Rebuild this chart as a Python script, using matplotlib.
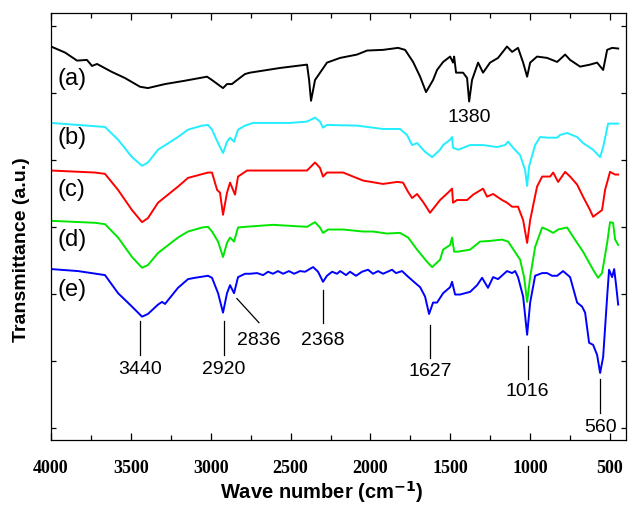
import matplotlib
matplotlib.use('Agg')
import matplotlib.pyplot as plt
from matplotlib.ticker import MultipleLocator

# FTIR spectra, transmittance in a.u. (curves offset vertically)
wn_a = [4000, 3912, 3837, 3775, 3743, 3712, 3618, 3537, 3443, 3393,
        3286, 3161, 3023, 2992, 2935, 2923, 2898, 2867, 2835, 2785,
        2754, 2566, 2397, 2384, 2372, 2359, 2347, 2272, 2190, 2084,
        2021, 1921, 1827, 1783, 1733, 1689, 1652, 1608, 1583, 1545,
        1501, 1483, 1476, 1464, 1420, 1395, 1382, 1364, 1326, 1295,
        1251, 1201, 1145, 1113, 1076, 1044, 1019, 1000, 957, 894,
        831, 781, 750, 687, 625, 581, 543, 518, 487, 449]
t_a = [5.69, 5.60, 5.48, 5.49, 5.40, 5.43, 5.31, 5.22, 5.09, 5.07,
       5.13, 5.18, 5.24, 5.19, 5.09, 5.07, 5.13, 5.13, 5.19, 5.28,
       5.30, 5.37, 5.42, 5.19, 4.88, 5.04, 5.19, 5.45, 5.52, 5.57,
       5.63, 5.64, 5.67, 5.64, 5.46, 5.24, 5.01, 5.19, 5.34, 5.46,
       5.54, 5.45, 5.54, 5.30, 5.30, 5.22, 4.87, 5.19, 5.45, 5.30,
       5.45, 5.52, 5.69, 5.61, 5.67, 5.45, 5.24, 5.45, 5.54, 5.52,
       5.46, 5.57, 5.49, 5.39, 5.42, 5.45, 5.34, 5.64, 5.67, 5.66]

wn_b = [4000, 3662, 3580, 3493, 3430, 3393, 3330, 3205, 3142, 3054,
        3017, 2992, 2954, 2923, 2898, 2879, 2854, 2829, 2785, 2735,
        2503, 2397, 2347, 2316, 2297, 2272, 2084, 1921, 1815, 1771,
        1739, 1708, 1658, 1614, 1564, 1545, 1501, 1489, 1483, 1451,
        1376, 1295, 1207, 1157, 1138, 1107, 1063, 1032, 1019, 1007,
        969, 938, 888, 831, 813, 769, 706, 669, 606, 562,
        543, 512, 449]
t_b = [4.55, 4.49, 4.30, 4.04, 3.91, 3.96, 4.15, 4.34, 4.45, 4.51,
       4.52, 4.45, 4.25, 4.10, 4.27, 4.33, 4.27, 4.45, 4.51, 4.55,
       4.55, 4.57, 4.63, 4.57, 4.48, 4.52, 4.51, 4.46, 4.46, 4.37,
       4.22, 4.25, 4.12, 4.04, 4.15, 4.22, 4.30, 4.34, 4.18, 4.15,
       4.22, 4.22, 4.19, 4.22, 4.27, 4.18, 4.07, 3.85, 3.61, 3.90,
       4.22, 4.34, 4.33, 4.33, 4.37, 4.40, 4.34, 4.25, 4.15, 4.04,
       4.19, 4.54, 4.54]

wn_c = [4000, 3724, 3662, 3580, 3493, 3430, 3393, 3330, 3205, 3142,
        3048, 3017, 2992, 2960, 2942, 2923, 2898, 2879, 2848, 2829,
        2785, 2773, 2397, 2347, 2316, 2297, 2272, 2171, 2046, 1921,
        1833, 1796, 1764, 1739, 1708, 1670, 1627, 1564, 1514, 1489,
        1483, 1458, 1395, 1357, 1295, 1270, 1232, 1176, 1145, 1113,
        1076, 1044, 1019, 1000, 957, 925, 875, 856, 825, 781,
        750, 706, 669, 625, 606, 550, 531, 500, 468, 449]
t_c = [3.84, 3.81, 3.79, 3.55, 3.25, 3.07, 3.13, 3.36, 3.60, 3.73,
       3.79, 3.81, 3.81, 3.55, 3.51, 3.18, 3.51, 3.66, 3.48, 3.75,
       3.82, 3.84, 3.84, 3.96, 3.88, 3.75, 3.81, 3.81, 3.69, 3.64,
       3.67, 3.66, 3.52, 3.43, 3.49, 3.37, 3.21, 3.40, 3.51, 3.57,
       3.36, 3.40, 3.40, 3.48, 3.57, 3.45, 3.49, 3.40, 3.36, 3.30,
       3.30, 3.10, 2.76, 3.10, 3.60, 3.75, 3.75, 3.81, 3.67, 3.82,
       3.75, 3.63, 3.45, 3.25, 3.15, 3.25, 3.55, 3.82, 3.78, 3.78]

wn_d = [4000, 3724, 3662, 3580, 3493, 3430, 3393, 3330, 3205, 3142,
        3054, 3017, 2992, 2954, 2923, 2898, 2879, 2854, 2829, 2785,
        2610, 2397, 2347, 2316, 2297, 2265, 2171, 2046, 1984, 1896,
        1815, 1764, 1708, 1646, 1614, 1564, 1545, 1501, 1489, 1476,
        1451, 1376, 1314, 1251, 1176, 1138, 1113, 1063, 1038, 1019,
        1000, 969, 925, 894, 856, 825, 769, 706, 669, 606,
        575, 550, 518, 500, 481, 468, 449]
t_d = [3.09, 3.06, 3.04, 2.84, 2.55, 2.39, 2.43, 2.61, 2.84, 2.93,
       2.99, 3.00, 2.93, 2.78, 2.55, 2.76, 2.84, 2.78, 2.99, 3.00,
       3.03, 3.00, 3.07, 2.99, 2.91, 2.96, 2.96, 2.93, 2.93, 2.90,
       2.91, 2.84, 2.66, 2.48, 2.40, 2.51, 2.66, 2.73, 2.84, 2.63,
       2.63, 2.66, 2.78, 2.79, 2.81, 2.78, 2.69, 2.51, 2.25, 1.88,
       2.25, 2.70, 2.99, 2.96, 2.91, 2.96, 2.99, 2.76, 2.63, 2.36,
       2.24, 2.31, 2.76, 3.07, 3.06, 2.81, 2.73]

wn_e = [4000, 3831, 3662, 3580, 3493, 3430, 3393, 3330, 3305, 3286,
        3205, 3142, 3098, 3017, 2992, 2954, 2923, 2898, 2879, 2854,
        2829, 2785, 2754, 2710, 2672, 2641, 2610, 2579, 2547, 2510,
        2478, 2441, 2409, 2359, 2328, 2297, 2272, 2240, 2209, 2190,
        2153, 2128, 2090, 2053, 2015, 1984, 1952, 1921, 1865, 1840,
        1802, 1771, 1733, 1689, 1658, 1633, 1608, 1583, 1545, 1501,
        1489, 1470, 1439, 1376, 1332, 1301, 1264, 1232, 1201, 1145,
        1113, 1094, 1076, 1044, 1019, 1000, 969, 925, 894, 863,
        831, 794, 750, 706, 675, 656, 631, 606, 581, 562,
        543, 518, 506, 487, 474, 462, 449]
t_e = [2.37, 2.34, 2.28, 2.01, 1.81, 1.66, 1.70, 1.84, 1.88, 1.85,
       2.09, 2.22, 2.24, 2.27, 2.24, 2.01, 1.72, 2.01, 2.13, 2.01,
       2.25, 2.30, 2.30, 2.31, 2.28, 2.33, 2.30, 2.34, 2.30, 2.34,
       2.30, 2.34, 2.33, 2.40, 2.33, 2.18, 2.27, 2.33, 2.30, 2.34,
       2.28, 2.33, 2.27, 2.33, 2.36, 2.30, 2.34, 2.30, 2.36, 2.31,
       2.34, 2.27, 2.19, 2.10, 1.96, 1.70, 1.87, 1.87, 2.01, 2.10,
       2.18, 1.99, 1.99, 2.03, 2.13, 2.24, 2.09, 2.25, 2.22, 2.34,
       2.31, 2.34, 2.25, 1.96, 1.39, 1.87, 2.27, 2.31, 2.31, 2.27,
       2.27, 2.34, 2.25, 1.87, 1.81, 1.72, 1.27, 1.24, 1.09, 0.82,
       1.06, 1.96, 2.36, 2.25, 2.37, 2.13, 1.84]

curves = [(wn_a, t_a, 'black', '(a)', 5.21),
          (wn_b, t_b, '#22EEFF', '(b)', 4.33),
          (wn_c, t_c, '#FF0000', '(c)', 3.55),
          (wn_d, t_d, '#00E600', '(d)', 2.81),
          (wn_e, t_e, '#0000FF', '(e)', 2.06)]

# peak labels: text, line start (x, y), line end (x, y), text position (x, y)
peaks = [('3440', (3440, 1.60), (3440, 1.09), (3440, 0.87)),
         ('2920', (2920, 1.60), (2920, 1.09), (2920, 0.87)),
         ('2836', (2836, 1.93), (2698, 1.57), (2698, 1.31)),
         ('2368', (2297, 2.06), (2297, 1.57), (2297, 1.31)),
         ('1627', (1627, 1.54), (1627, 1.04), (1627, 0.84)),
         ('1016', (1016, 1.22), (1016, 0.73), (1016, 0.54)),
         ('560', (560, 0.73), (560, 0.22), (560, 0.01))]

fig = plt.figure(figsize=(6.3, 5.09), dpi=100)
ax = fig.add_axes([51/630, 69/509, 575/630, 427/509])

for wn, t, col, lab, ly in curves:
    ax.plot(wn, t, color=col, lw=1.4, solid_joinstyle='round')
    ax.text(3962, ly, lab, fontsize=17, family='Liberation Sans', va='center', ha='left')

for txt, p0, p1, pt in peaks:
    ax.plot([p0[0], p1[0]], [p0[1], p1[1]], color='black', lw=0.9)
    ax.text(pt[0], pt[1], txt, fontsize=14, family='Liberation Sans', ha='center', va='center')
ax.text(1380, 4.63, '1380', fontsize=14, family='Liberation Sans', ha='center', va='center')

ax.set_xlim(4000, 400)
ax.set_ylim(-0.18, 6.19)
ax.xaxis.set_major_locator(MultipleLocator(500))
ax.xaxis.set_minor_locator(MultipleLocator(250))
ax.yaxis.set_major_locator(MultipleLocator(1))
ax.tick_params(axis='both', which='both', direction='in', top=True, right=True, width=0.9)
ax.tick_params(axis='x', which='major', length=5, pad=14.5, labelsize=13,
               labelfontfamily='Liberation Serif')
ax.tick_params(axis='x', which='minor', length=3.5)
ax.tick_params(axis='y', which='major', length=3.5, labelleft=False)
plt.setp(ax.get_xticklabels(), fontweight='bold')
for s in ax.spines.values():
    s.set_linewidth(0.9)

ax.set_xlabel('Wave number (cm$^{\\mathbf{-1}}$)', fontsize=14.5, fontweight='bold',
              family='Liberation Sans', va='center')
ax.set_ylabel('Transmittance (a.u.)', fontsize=14, fontweight='bold', family='Liberation Sans')
ax.xaxis.set_label_coords(0.471, -0.122)
ax.yaxis.set_label_coords(-0.0365, 0.447)

fig.savefig('out.png', dpi=100)
